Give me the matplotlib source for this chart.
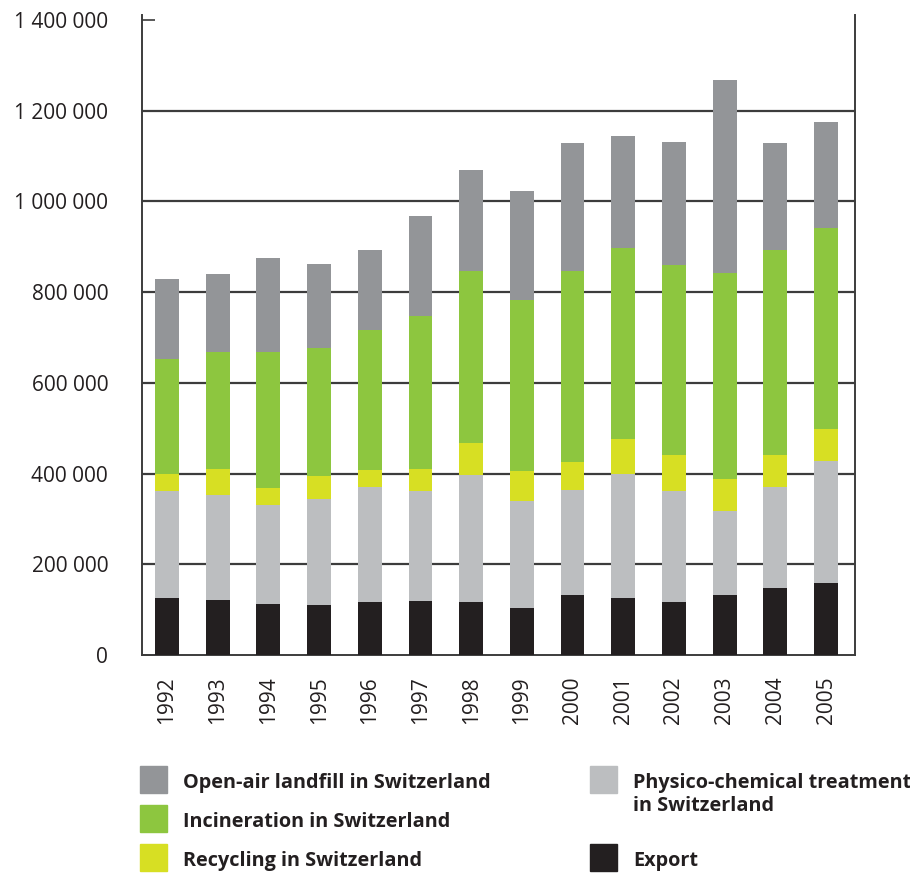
import matplotlib
matplotlib.use('Agg')
import matplotlib.pyplot as plt
from matplotlib.patches import Rectangle
import numpy as np

# Swiss hazardous waste disposal (tonnes)
years = ['1992', '1993', '1994', '1995', '1996', '1997', '1998',
         '1999', '2000', '2001', '2002', '2003', '2004', '2005']
export = [126500, 122100, 113300, 111100, 117700, 119900, 117700,
          104500, 133200, 126500, 117700, 133200, 148600, 159700]
physico = [234800, 231900, 218600, 232500, 252400, 242900, 280500,
           236200, 231800, 273900, 245100, 183900, 221500, 269400]
recycling = [39100, 57400, 37500, 52400, 39100, 48600, 68400,
             66300, 61900, 75000, 79500, 72200, 72200, 68400]
incineration = [251700, 256200, 298200, 280400, 307000, 335700, 379800,
                375400, 419500, 421800, 417400, 452700, 450500, 443900]
landfill = [176700, 172200, 207500, 185500, 176600, 220800, 223100,
            240700, 282700, 247400, 271600, 426200, 236300, 234100]

yticks = [0, 200000, 400000, 600000, 800000, 1000000, 1200000, 1400000]
ytick_labels = ['0', '200 000', '400 000', '600 000', '800 000',
                '1 000 000', '1 200 000', '1 400 000']

series = [export, physico, recycling, incineration, landfill]
names = ['Export', 'Physico-chemical treatment\nin Switzerland',
         'Recycling in Switzerland', 'Incineration in Switzerland',
         'Open-air landfill in Switzerland']
colors = ['#231f20', '#bcbec0', '#d7df23', '#8dc63f', '#939598']

text_col = '#231f20'
plt.rcParams['font.family'] = ['Open Sans', 'DejaVu Sans']

fig = plt.figure(figsize=(9.1, 8.73), dpi=100)
ax = fig.add_axes([0.1555, 0.2494, 0.784, 0.7336])

x = np.arange(len(years))
bottom = np.zeros(len(years))
for vals, c in zip(series, colors):
    ax.bar(x, vals, width=0.47, bottom=bottom, color=c, zorder=3)
    bottom += np.array(vals)

# gridlines (none at the top tick)
for v in yticks[1:-1]:
    ax.axhline(v, color='#3c3c3c', lw=1.6, zorder=1)

ax.set_xlim(-0.503, 13.57)
ax.set_ylim(0, 1411000)
ax.set_yticks(yticks)
ax.set_yticklabels(ytick_labels, fontsize=15, color=text_col)
ax.set_xticks(x)
ax.set_xticklabels(years, rotation=90, fontsize=15, color=text_col)
ax.tick_params(axis='y', direction='in', length=9, width=1.2, color='#3c3c3c', pad=24)
ax.tick_params(axis='x', length=0, pad=15)

for s in ['left', 'right', 'bottom']:
    ax.spines[s].set_color('#3c3c3c')
    ax.spines[s].set_linewidth(1.4)
ax.spines['top'].set_visible(False)

# legend, laid out as in the original (two columns)
legend_order = [(4, 0, 0), (3, 0, 1), (2, 0, 2), (1, 1, 0), (0, 1, 2)]
col_x = [140, 590]
row_y0 = 766
row_step = 39
line_step = 22.7
H = 873.0
W = 910.0
for idx, col, row in legend_order:
    top = row_y0 + row * row_step
    fig.add_artist(Rectangle((col_x[col] / W, 1 - (top + 27) / H), 26.5 / W, 27 / H,
                             transform=fig.transFigure, color=colors[idx]))
    for k, line in enumerate(names[idx].split('\n')):
        fig.text((col_x[col] + 43) / W, 1 - (top + 22 + k * line_step) / H, line,
                 ha='left', va='baseline', fontsize=14.3, fontweight='bold',
                 color=text_col)

fig.savefig('out.png', dpi=100)
